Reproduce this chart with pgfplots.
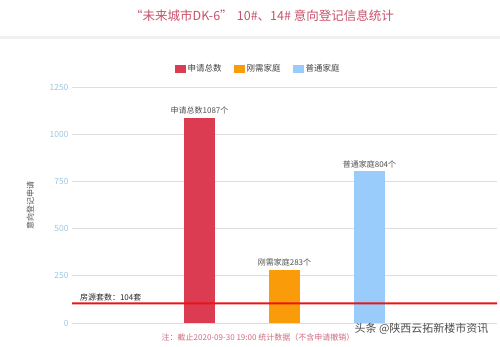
\documentclass[border=0pt]{standalone}
\usepackage{fontspec}
\setmainfont{Noto Sans CJK SC}
\usepackage{pgfplots}
\pgfplotsset{compat=1.18}
\definecolor{cRed}{RGB}{220,60,82}
\definecolor{cOrange}{RGB}{250,155,10}
\definecolor{cBlue}{RGB}{153,204,250}
\definecolor{cLine}{RGB}{235,20,20}
\definecolor{cTitle}{RGB}{200,80,105}
\definecolor{cTick}{RGB}{160,198,225}
\definecolor{cGrid}{RGB}{222,222,222}
\definecolor{cText}{RGB}{80,80,80}
\begin{document}
\begin{tikzpicture}[x=1pt,y=1pt]
\path[use as bounding box] (0,0) rectangle (500,346);
\fill[gray!12] (0,307) rectangle (500,309.5);
\node[text=cTitle, font=\fontsize{12.5}{14}\selectfont] at (262,330) {“未来城市DK-6”\,\,10\#、14\# 意向登记信息统计};
\begin{axis}[
  at={(72pt,23pt)}, anchor=south west,
  scale only axis, width=425pt, height=236pt,
  xmin=0, xmax=5, ymin=0, ymax=1250,
  ytick={0,250,500,750,1000,1250}, xtick=\empty,
  ymajorgrids, grid style={cGrid, line width=0.8pt},
  axis line style={draw=none}, major tick length=0pt,
  yticklabel style={text=cTick, font=\fontsize{8.5}{9}\selectfont},
  /pgf/number format/assume math mode=true,
  /pgf/number format/1000 sep={},
  ylabel={意向登记申请},
  ylabel style={at={(axis description cs:-0.098,0.5)}, anchor=center, text=cText, font=\fontsize{8}{9}\selectfont},
  nodes near coords style={text=cText, font=\fontsize{8}{9}\selectfont, anchor=south, yshift=0pt},
  legend columns=3,
  legend style={at={(axis description cs:0.438,1.076)}, anchor=center, draw=none, fill=none,
    font=\fontsize{8.5}{10}\selectfont, text=black!75, /tikz/every even column/.append style={column sep=10pt}},
  legend image code/.code={\fill[#1] (0pt,-4pt) rectangle (11pt,4pt);},
  clip=false,
]
\addplot[ybar, bar width=0.365, bar shift=0pt, fill=cRed, draw=none, nodes near coords={申请总数\pgfmathprintnumber{\pgfplotspointmeta}个}] coordinates {(1.5,1087)};
\addlegendentry{申请总数}
\addplot[ybar, bar width=0.365, bar shift=0pt, fill=cOrange, draw=none, nodes near coords={刚需家庭\pgfmathprintnumber{\pgfplotspointmeta}个}] coordinates {(2.5,283)};
\addlegendentry{刚需家庭}
\addplot[ybar, bar width=0.365, bar shift=0pt, fill=cBlue, draw=none, nodes near coords={普通家庭\pgfmathprintnumber{\pgfplotspointmeta}个}] coordinates {(3.5,804)};
\addlegendentry{普通家庭}
% threshold line at 104 drawn as a thin filled band (99..109)
\addplot[fill=cLine, draw=none, mark=none, forget plot] coordinates {(0,99) (5,99) (5,109) (0,109) (0,99)};
\node[anchor=south west, text=black!85, font=\fontsize{8}{9}\selectfont, inner sep=1pt] at (axis cs:0.08,109) {房源套数：104套};
\end{axis}
\node[text=cTitle!85, font=\fontsize{8}{9}\selectfont] at (258,9) {注：截止2020-09-30 19:00 统计数据（不含申请撤销）};
\node[text=black!70, font=\fontsize{11}{12}\selectfont, anchor=east] at (492,17) {头条 @陕西云拓新楼市资讯};
\end{tikzpicture}
\end{document}
